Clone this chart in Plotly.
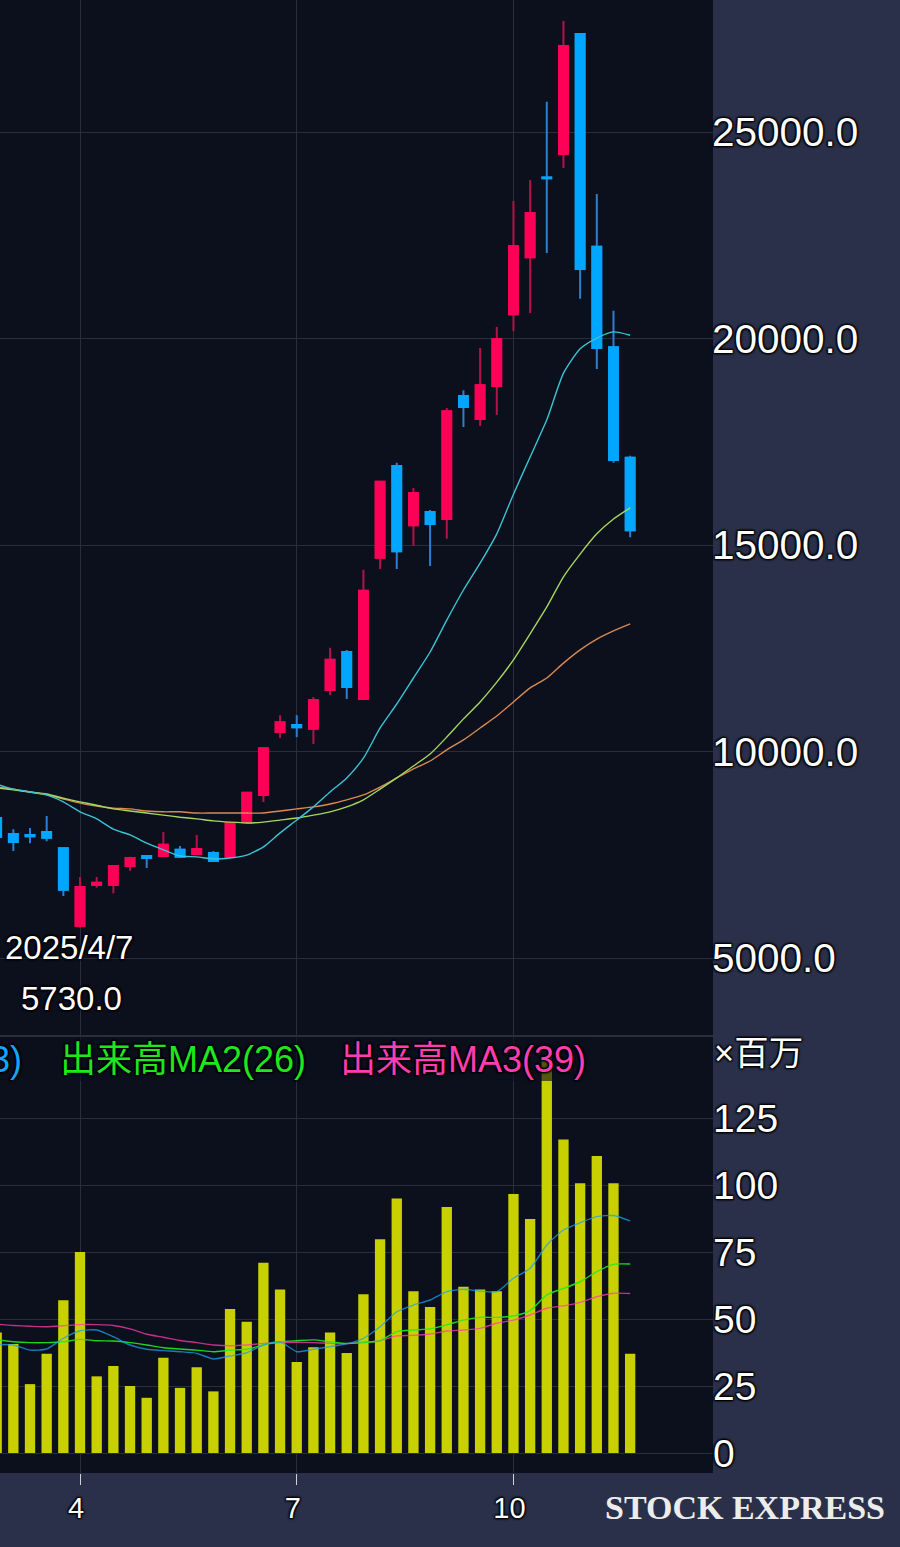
import plotly.graph_objects as go

# weeks counted from the 2025/4/7 candle
weeks = list(range(-5, 34))

opens = [8390, 8000, 7980, 8050, 7660, 5780, 6770, 6770, 7230, 7470, 7470, 7620, 7520, 7540, 7450, 8290, 8950,
         10470, 10640, 10550, 11490, 12410, 11270, 14690, 16910, 15480, 15800, 15630, 18610, 18050, 18850, 20590,
         21970, 23900, 24470, 27370, 22220, 19790, 17110]
highs = [8390, 8120, 8150, 8440, 7660, 6960, 6960, 7230, 7450, 7490, 8050, 7710, 7980, 7590, 8270, 9000, 10080,
         10880, 10880, 11320, 12510, 12460, 14400, 16530, 16990, 16380, 15850, 18320, 18750, 19770, 20280, 23330,
         23840, 25730, 27690, 27370, 23500, 20670, 17160]
lows = [7930, 7590, 7780, 7830, 6500, 5730, 6700, 6570, 7110, 7180, 7470, 7420, 7520, 7350, 7450, 8290, 8780,
        10330, 10350, 10180, 11370, 11270, 11270, 14420, 14420, 14980, 14490, 15150, 17860, 17880, 18150, 20180,
        20620, 22070, 24130, 20960, 19260, 16990, 15190]
closes = [7930, 7810, 7950, 7910, 6650, 6720, 6820, 7230, 7420, 7420, 7740, 7450, 7640, 7350, 8270, 9000, 10080,
          10710, 10590, 11250, 12220, 11560, 13890, 16530, 14850, 16260, 15510, 18240, 18340, 18870, 19990, 22240,
          23040, 23880, 27080, 21680, 19770, 17060, 15360]

price_ma1 = [9210, 9090, 9020, 8950, 8780, 8540, 8370, 8120, 7980, 7780, 7620, 7470, 7450, 7400, 7420, 7490, 7690,
             8030, 8340, 8660, 9020, 9360, 9840, 10570, 11150, 11780, 12410, 13180, 13910, 14560, 15270, 16230,
             17130, 18030, 19160, 19750, 20010, 20160, 20080]
price_ma2 = [9120, 9070, 9020, 8970, 8870, 8780, 8700, 8610, 8560, 8510, 8460, 8410, 8370, 8320, 8290, 8270, 8290,
             8340, 8390, 8460, 8540, 8660, 8830, 9090, 9360, 9650, 9940, 10350, 10790, 11200, 11680, 12220,
             12850, 13500, 14230, 14780, 15270, 15630, 15900]
price_ma3 = [9140, 9090, 9020, 8950, 8850, 8750, 8680, 8630, 8610, 8560, 8540, 8540, 8510, 8510, 8510, 8510, 8510,
             8560, 8610, 8660, 8730, 8830, 8950, 9140, 9360, 9580, 9770, 10040, 10280, 10570, 10860, 11200,
             11540, 11780, 12140, 12460, 12720, 12920, 13090]

volume = [45, 40.7, 25.7, 37, 57, 75, 28.6, 32.5, 25, 20.6, 35.5, 24.3, 32, 23, 53.7, 49, 71, 61, 34, 39.5, 45,
          37.3, 59.2, 79.8, 95, 60.4, 54.5, 91.8, 62, 61, 60.4, 96.6, 87.3, 147.4, 117, 100.7, 110.8, 100.7, 37]
vol_ma1 = [40.5, 40.3, 38.4, 38.8, 42.8, 45.6, 45.9, 43.4, 40.3, 38.7, 38.2, 37.8, 37.2, 35.1, 36.2, 37.4, 40.3,
           41.5, 37.8, 38.7, 39.7, 40.7, 42.8, 47.1, 52.7, 55.2, 57.1, 60.2, 61.1, 60.4, 60.2, 65.2, 68.9, 77.6,
           83.2, 85.9, 88.2, 88.6, 86.6]
vol_ma2 = [42.2, 41.5, 41.2, 41.2, 41.5, 42.4, 41.9, 41.8, 41.2, 40.3, 39.3, 38.8, 38.4, 37.8, 38.4, 38.7, 40.3,
           41.5, 41.9, 42.2, 41.5, 40.9, 41.2, 41.9, 45.3, 45.9, 46.3, 47.8, 49.6, 50.6, 50.6, 51.1, 53.1, 59.0,
           61.4, 63.9, 67.7, 70.4, 70.5]
vol_ma3 = [48.1, 47.6, 47.3, 47.1, 47.5, 47.9, 47.9, 47.6, 46.3, 44.3, 43.2, 42.0, 41.2, 40.3, 40.0, 40.3, 40.9,
           41.2, 41.3, 41.2, 40.9, 40.8, 41.3, 41.9, 43.7, 43.9, 44.4, 45.5, 45.9, 46.5, 48.4, 49.6, 51.5, 54.0,
           54.9, 56.2, 58.3, 59.6, 59.5]

month_ticks = [0, 13, 26]
month_labels = ["4", "7", "10"]
price_ticks = [5000, 10000, 15000, 20000, 25000]
volume_ticks = [0, 25, 50, 75, 100, 125]

UP = "#ff0057"
DOWN = "#00a6ff"
GRID = "#2a2d3b"
PANEL = "#0c0f1c"
PAGE = "#2a3049"
SANS = "Liberation Sans, Noto Sans CJK JP"
GLOW = "1px 1px 2px #000, -1px -1px 2px #000, 1px -1px 2px #000, -1px 1px 2px #000"
H = 1545.0  # the page comes out about 2px short of 1547
W = 900.0


def py(pixel):
    return 1 - pixel / H


fig = go.Figure()

# wicks first in the duller colours, then the bodies on top
fig.add_trace(go.Candlestick(
    x=weeks, open=opens, high=highs, low=lows, close=closes,
    increasing=dict(line=dict(color="#b5124a", width=2), fillcolor="#b5124a"),
    decreasing=dict(line=dict(color="#2f7fd0", width=2), fillcolor="#2f7fd0"),
    whiskerwidth=0, hoverinfo="skip", showlegend=False,
))
fig.add_trace(go.Candlestick(
    x=weeks, open=opens, close=closes,
    high=[max(a, b) for a, b in zip(opens, closes)],
    low=[min(a, b) for a, b in zip(opens, closes)],
    increasing=dict(line=dict(color=UP, width=2), fillcolor=UP),
    decreasing=dict(line=dict(color=DOWN, width=2), fillcolor=DOWN),
    whiskerwidth=0, hoverinfo="skip", showlegend=False,
))

for values, color in [(price_ma3, "#d98a52"), (price_ma2, "#a6d85c"), (price_ma1, "#3cc4d4")]:
    fig.add_trace(go.Scatter(x=weeks, y=values, mode="lines", showlegend=False,
                             line=dict(color=color, width=1.4, shape="spline", smoothing=0.6), hoverinfo="skip"))

fig.add_trace(go.Bar(x=weeks, y=volume, width=0.62, marker=dict(color="#c9d000", line=dict(width=0)),
                     xaxis="x2", yaxis="y2", showlegend=False, hoverinfo="skip"))

for values, color in [(vol_ma3, "rgba(255,60,176,0.75)"), (vol_ma2, "rgba(32,235,32,0.9)"),
                      (vol_ma1, "rgba(30,160,235,0.75)")]:
    fig.add_trace(go.Scatter(x=weeks, y=values, mode="lines", xaxis="x2", yaxis="y2", showlegend=False,
                             line=dict(color=color, width=1.4, shape="spline", smoothing=0.6), hoverinfo="skip"))

fig.update_layout(
    width=900, height=1547, autosize=False,
    margin=dict(l=0, r=0, t=0, b=0),
    paper_bgcolor=PAGE, plot_bgcolor=PANEL,
    boxgap=0.24,
    font=dict(family=SANS, color="white"),
    xaxis=dict(domain=[0, 713 / W], range=[-4.8, 37.97], anchor="y", rangeslider=dict(visible=False),
               tickmode="array", tickvals=month_ticks, ticktext=["", "", ""], showgrid=True, gridcolor=GRID,
               gridwidth=1, zeroline=False, showline=True, linecolor=GRID, linewidth=2, ticks=""),
    yaxis=dict(domain=[py(1035), 1], range=[3136, 28196], anchor="x", side="right", tickmode="array",
               tickvals=price_ticks, tickformat=".1f", showgrid=True, gridcolor=GRID, gridwidth=1, zeroline=False,
               tickfont=dict(size=40.5, color="white", shadow=GLOW), ticks="", ticklabelstandoff=-2),
    xaxis2=dict(domain=[0, 713 / W], range=[-4.8, 37.97], anchor="y2", tickmode="array",
                tickvals=month_ticks, ticktext=month_labels, ticks="outside", ticklen=11, tickcolor="#cfd2da",
                tickwidth=1, showgrid=True, gridcolor=GRID, gridwidth=1, zeroline=False, ticklabelshift=-4,
                ticklabelstandoff=-2, tickfont=dict(size=29, color="white", shadow=GLOW)),
    yaxis2=dict(domain=[py(1473), py(1035)], range=[-7.46, 155.97], anchor="x2", side="right", tickmode="array",
                tickvals=volume_ticks, showgrid=True, gridcolor=GRID, gridwidth=1, zeroline=False,
                tickfont=dict(size=39, color="white", shadow=GLOW), ticks="", ticklabelstandoff=-1),
    shapes=[dict(type="rect", xref="paper", yref="paper", x0=0, x1=590 / W, y0=py(1081), y1=py(1037),
                 fillcolor="rgba(12,15,28,0.62)", line=dict(width=0), layer="above")],
    annotations=[
        dict(x=24 / W, y=py(1059), xref="paper", yref="paper", xanchor="right", yanchor="middle",
             text="3)", showarrow=False, font=dict(size=36, color="#12a6ff", shadow=GLOW)),
        dict(x=58 / W, y=py(1059), xref="paper", yref="paper", xanchor="left", yanchor="middle",
             text="出来高MA2(26)", showarrow=False, font=dict(size=36, color="#1fe61f", shadow=GLOW)),
        dict(x=338 / W, y=py(1059), xref="paper", yref="paper", xanchor="left", yanchor="middle",
             text="出来高MA3(39)", showarrow=False, font=dict(size=36, color="#ff3cb0", shadow=GLOW)),
        dict(x=712 / W, y=py(1053), xref="paper", yref="paper", xanchor="left", yanchor="middle",
             text="×百万", showarrow=False, font=dict(size=34.5, color="white", shadow=GLOW)),
        dict(x=0, y=5730, xref="x", yref="y", xanchor="center", yanchor="middle", yshift=-20, xshift=-11,
             text="2025/4/7", showarrow=False, font=dict(size=33, color="white", shadow=GLOW)),
        dict(x=0, y=5730, xref="x", yref="y", xanchor="center", yanchor="middle", yshift=-71, xshift=-9,
             text="5730.0", showarrow=False, font=dict(size=33, color="white", shadow=GLOW)),
        dict(x=887 / W, y=py(1507), xref="paper", yref="paper", xanchor="right", yanchor="middle",
             text="<b>STOCK EXPRESS</b>", showarrow=False,
             font=dict(family="Liberation Serif", size=34, color="#ececec")),
    ],
)

fig.write_html("out.html", config=dict(displayModeBar=False), post_script="document.body.style.margin='0';")
